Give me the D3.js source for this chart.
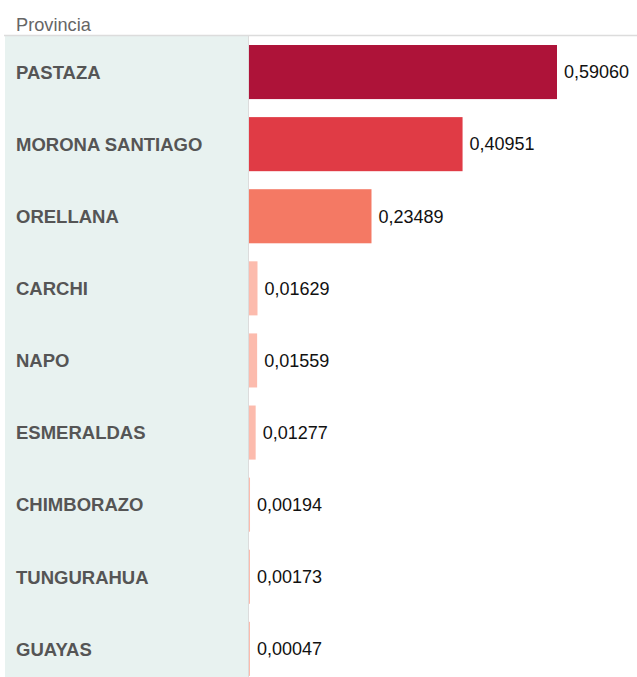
<!DOCTYPE html>
<html>
<head>
<meta charset="utf-8">
<script src="https://cdn.jsdelivr.net/npm/d3@7"></script>
<style>
  html, body { margin: 0; padding: 0; background: #fff; }
  svg { display: block; font-family: "Liberation Sans", Arial, sans-serif; }
</style>
</head>
<body>
<div id="chart"></div>
<script>
var provincias = ["PASTAZA", "MORONA SANTIAGO", "ORELLANA", "CARCHI", "NAPO",
    "ESMERALDAS", "CHIMBORAZO", "TUNGURAHUA", "GUAYAS"];
var valores = [0.59060, 0.40951, 0.23489, 0.01629, 0.01559, 0.01277, 0.00194, 0.00173, 0.00047];
var titulo = "Provincia";

var width = 637;
var height = 677;
var top_y = 36;
var panel_x = 5;
var panel_w = 243;
var bar_x0 = 249;

var svg = d3.select("#chart")
    .append("svg")
    .attr("width", width)
    .attr("height", height);

var x = d3.scaleLinear()
    .domain([0, d3.max(valores)])
    .range([bar_x0, 557]);

var y = d3.scaleBand()
    .domain(provincias)
    .range([top_y, top_y + 72.1 * provincias.length])
    .paddingInner(0.25)
    .paddingOuter(0.125);

// colour by value, light pink for tiny values up to dark crimson
var color = d3.scaleThreshold()
    .domain([0.1, 0.3, 0.5])
    .range(["#fcbbad", "#f47964", "#e03b45", "#ae1339"]);

// left panel with row headers
svg.append("rect")
    .attr("x", panel_x)
    .attr("y", top_y)
    .attr("width", panel_w)
    .attr("height", height - top_y)
    .attr("fill", "#e8f2f0");

svg.append("line")
    .attr("x1", panel_x + panel_w + 0.5)
    .attr("x2", panel_x + panel_w + 0.5)
    .attr("y1", top_y)
    .attr("y2", height)
    .attr("stroke", "#dcdcdc")
    .attr("stroke-width", 1);

svg.append("line")
    .attr("x1", 4)
    .attr("x2", width)
    .attr("y1", top_y - 0.5)
    .attr("y2", top_y - 0.5)
    .attr("stroke", "#dcdcdc")
    .attr("stroke-width", 1.5);

svg.append("text")
    .attr("x", 16)
    .attr("y", 31)
    .attr("font-size", "18.2px")
    .attr("fill", "#666")
    .text(titulo);

var rows = svg.selectAll("g.row")
    .data(provincias)
    .join("g")
    .attr("class", "row");

rows.append("text")
    .attr("x", 16)
    .attr("y", d => y(d) + y.bandwidth() / 2 + 6.8)
    .attr("font-size", "18.5px")
    .attr("font-weight", "bold")
    .attr("fill", "#555")
    .text(d => d);

rows.append("rect")
    .attr("x", x(0))
    .attr("y", d => y(d))
    .attr("height", y.bandwidth())
    .attr("width", (d, i) => Math.max(1, x(valores[i]) - x(0)))
    .attr("fill", (d, i) => color(valores[i]));

rows.append("text")
    .attr("x", (d, i) => Math.max(x(0) + 1, x(valores[i])) + 7)
    .attr("y", d => y(d) + y.bandwidth() / 2 + 6.3)
    .attr("font-size", "18px")
    .attr("fill", "#111")
    .text((d, i) => valores[i].toFixed(5).replace(".", ","));
</script>
</body>
</html>
